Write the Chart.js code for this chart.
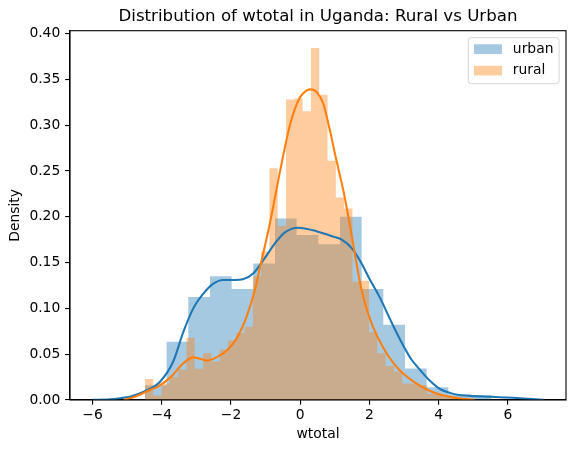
<!DOCTYPE html>
<html><head><meta charset="utf-8">
<script src="https://cdn.jsdelivr.net/npm/chart.js@4.4.1/dist/chart.umd.min.js"></script>
<style>html,body{margin:0;padding:0;background:#fff}#wrap{position:relative;width:576px;height:453px}</style>
</head><body><div id="wrap"><canvas id="c"></canvas></div>
<script>
const titleText = 'Distribution of wtotal in Uganda: Rural vs Urban';
const xLabel = 'wtotal';
const yLabel = 'Density';
const seriesNames = ['urban', 'rural'];

const xTicks = [-6, -4, -2, 0, 2, 4, 6];
const xTickLabels = ['\u22126', '\u22124', '\u22122', '0', '2', '4', '6'];
const yTicks = [0, 0.05, 0.10, 0.15, 0.20, 0.25, 0.30, 0.35, 0.40];
const yTickLabels = ['0.00', '0.05', '0.10', '0.15', '0.20', '0.25', '0.30', '0.35', '0.40'];

// histogram bin edges and densities
const urbanEdges = [-4.487, -3.861, -3.234, -2.608, -1.982, -1.356, -0.729, -0.103, 0.523, 1.150,
  1.776, 2.402, 3.029, 3.655, 4.281, 4.908, 5.534];
const urbanDensity = [0.016, 0.0635, 0.1125, 0.135, 0.121, 0.149, 0.198, 0.180, 0.170, 0.200,
  0.121, 0.082, 0.0345, 0.0138, 0.0062, 0.0054];

const ruralEdges = [-4.487, -4.247, -4.007, -3.767, -3.527, -3.288, -3.048, -2.808, -2.568, -2.328,
  -2.088, -1.848, -1.608, -1.368, -1.128, -0.889, -0.649, -0.409, -0.169, 0.071,
  0.311, 0.551, 0.791, 1.031, 1.271, 1.511, 1.750, 1.990, 2.230, 2.470,
  2.710, 2.950, 3.190, 3.430, 3.670, 3.909, 4.149, 4.389, 4.629];
const ruralDensity = [0.023, 0.005, 0.018, 0.025, 0.033, 0.068, 0.034, 0.051, 0.042, 0.055,
  0.065, 0.073, 0.080, 0.135, 0.162, 0.253, 0.190, 0.328, 0.329, 0.315,
  0.384, 0.333, 0.261, 0.221, 0.209, 0.129, 0.130, 0.074, 0.051, 0.037,
  0.031, 0.018, 0.018, 0.016, 0.0065, 0.006, 0.003, 0.0025];

// KDE curves
const urbanKdeX = [-6.0, -5.5, -5.2, -4.92, -4.52, -4.05, -3.67, -3.38, -3.09, -2.80,
  -2.51, -2.22, -1.93, -1.64, -1.36, -1.02, -0.73, -0.44, -0.06, 0.49,
  0.98, 1.2, 1.48, 1.73, 2.02, 2.3, 2.6, 2.9, 3.2, 3.46,
  3.75, 4.04, 4.35, 4.64, 4.91, 5.49, 6.0, 6.35, 7.03];
const urbanKdeY = [0.0002, 0.0008, 0.002, 0.0036, 0.009, 0.020, 0.042, 0.074, 0.100, 0.116,
  0.127, 0.131, 0.131, 0.132, 0.138, 0.155, 0.171, 0.183, 0.188, 0.184,
  0.178, 0.175, 0.166, 0.152, 0.131, 0.112, 0.088, 0.065, 0.045, 0.033,
  0.021, 0.012, 0.0075, 0.0052, 0.0045, 0.0036, 0.0028, 0.002, 0.0003];

const ruralKdeX = [-5.1, -4.92, -4.69, -4.34, -4.11, -3.73, -3.38, -3.09, -2.90, -2.70,
  -2.40, -2.12, -1.84, -1.55, -1.31, -1.16, -0.87, -0.58, -0.29, -0.01,
  0.19, 0.31, 0.48, 0.67, 0.86, 1.05, 1.25, 1.44, 1.6, 1.75,
  1.9, 2.1, 2.4, 2.7, 3.0, 3.4, 3.8, 4.25, 4.7, 5.05];
const ruralKdeY = [0.0002, 0.0018, 0.005, 0.011, 0.0145, 0.0255, 0.040, 0.0465, 0.045, 0.043,
  0.047, 0.054, 0.067, 0.091, 0.120, 0.145, 0.194, 0.250, 0.301, 0.330,
  0.338, 0.339, 0.336, 0.323, 0.294, 0.261, 0.228, 0.190, 0.155, 0.124,
  0.102, 0.080, 0.057, 0.040, 0.028, 0.017, 0.009, 0.004, 0.0012, 0.0002];

const urbanFill = 'rgba(31,119,180,0.4)';
const ruralFill = 'rgba(255,127,14,0.4)';
const urbanLine = '#1f77b4';
const ruralLine = '#ff7f0e';

function histPoints(edges, dens) {
  return edges.map((e, i) => ({x: e, y: i < dens.length ? dens[i] : 0}));
}
function curvePoints(xs, ys) {
  return xs.map((x, i) => ({x: x, y: ys[i]}));
}

Chart.defaults.font.family = "'DejaVu Sans', sans-serif";
Chart.defaults.font.size = 13.89;
Chart.defaults.color = '#000';

const FS = 13.89;
const LEG_PAD = 7.5;
const LEG_BOX_W = 27.7;
const LEG_BOX_EXTRA = 4.2;

const framePlugin = {
  id: 'framePlugin',
  afterLayout(chart) {
    const lg = chart.legend, a = chart.chartArea;
    if (!lg || !a) return;
    const left = a.right - 99.5;
    const top = a.top + 4.0;
    lg.left = left; lg.top = top;
    lg.right = left + 95; lg.bottom = top + 200;
  },
  beforeDraw(chart) {
    const a = chart.chartArea, ctx = chart.ctx;
    const w = 90.7, h = 46;
    const x0 = a.right - 6.9 - w, y0 = a.top + 6.9;
    const r = 2.8;
    ctx.save();
    ctx.beginPath();
    ctx.moveTo(x0 + r, y0);
    ctx.lineTo(x0 + w - r, y0); ctx.arcTo(x0 + w, y0, x0 + w, y0 + r, r);
    ctx.lineTo(x0 + w, y0 + h - r); ctx.arcTo(x0 + w, y0 + h, x0 + w - r, y0 + h, r);
    ctx.lineTo(x0 + r, y0 + h); ctx.arcTo(x0, y0 + h, x0, y0 + h - r, r);
    ctx.lineTo(x0, y0 + r); ctx.arcTo(x0, y0, x0 + r, y0, r);
    ctx.closePath();
    ctx.fillStyle = 'rgba(255,255,255,0.8)';
    ctx.fill();
    ctx.strokeStyle = 'rgba(204,204,204,0.8)';
    ctx.lineWidth = 1;
    ctx.stroke();
    ctx.restore();
  },
  afterDatasetsDraw(chart) {
    const a = chart.chartArea, ctx = chart.ctx;
    ctx.save();
    ctx.strokeStyle = '#000';
    ctx.lineWidth = 1.1;
    ctx.strokeRect(a.left, a.top, a.right - a.left, a.bottom - a.top);
    ctx.restore();
  }
};

function legendLabels(chart) {
  const a = chart.chartArea;
  const bx = (a && a.right ? a.right : 566) - 99.5 + LEG_PAD;
  const fills = [urbanFill, ruralFill];
  return seriesNames.map((name, i) => {
    const g = chart.ctx.createLinearGradient(bx, 0, bx + LEG_BOX_W + LEG_BOX_EXTRA, 0);
    const f = LEG_BOX_W / (LEG_BOX_W + LEG_BOX_EXTRA);
    g.addColorStop(0, fills[i]);
    g.addColorStop(f, fills[i]);
    g.addColorStop(Math.min(1, f + 0.001), 'rgba(255,255,255,0)');
    g.addColorStop(1, 'rgba(255,255,255,0)');
    return {text: name, fillStyle: g, strokeStyle: 'rgba(0,0,0,0)', lineWidth: 0, hidden: false, datasetIndex: i, fontColor: '#000'};
  });
}

const axisCommon = {
  grid: {display: true, drawOnChartArea: false, drawTicks: true, tickLength: 4.86, color: '#000', lineWidth: 1.1},
  border: {display: true, color: '#000', width: 1.1}
};

new Chart(document.getElementById('c'), {
  type: 'line',
  data: {
    datasets: [
      {label: seriesNames[0], data: histPoints(urbanEdges, urbanDensity), stepped: 'before', fill: 'origin',
       backgroundColor: urbanFill, borderColor: 'rgba(0,0,0,0)', borderWidth: 0, pointRadius: 0, order: 3},
      {label: seriesNames[1], data: histPoints(ruralEdges, ruralDensity), stepped: 'before', fill: 'origin',
       backgroundColor: ruralFill, borderColor: 'rgba(0,0,0,0)', borderWidth: 0, pointRadius: 0, order: 2},
      {label: seriesNames[0] + ' kde', data: curvePoints(urbanKdeX, urbanKdeY), borderColor: urbanLine, borderWidth: 2.08,
       pointRadius: 0, fill: false, cubicInterpolationMode: 'monotone', order: 1},
      {label: seriesNames[1] + ' kde', data: curvePoints(ruralKdeX, ruralKdeY), borderColor: ruralLine, borderWidth: 2.08,
       pointRadius: 0, fill: false, cubicInterpolationMode: 'monotone', order: 0}
    ]
  },
  options: {
    responsive: true,
    maintainAspectRatio: false,
    animation: false,
    events: [],
    layout: {padding: {left: 0, right: 10, top: 0, bottom: 0}},
    plugins: {
      tooltip: {enabled: false},
      title: {display: true, text: titleText, align: 'center', fullSize: false, color: '#000',
              font: {size: 16.67, weight: 'normal', lineHeight: 1.2}, padding: {top: 6.6, bottom: 4.1}},
      legend: {display: true, position: 'chartArea', align: 'start',
               labels: {boxWidth: LEG_BOX_W + LEG_BOX_EXTRA, boxHeight: 9.7, padding: LEG_PAD, color: '#000',
                        font: {size: FS}, generateLabels: legendLabels}}
    },
    scales: {
      x: Object.assign({}, axisCommon, {
        type: 'linear', min: -6.653, max: 7.682,
        afterFit(s) { s.height = 53; },
        afterBuildTicks(s) { s.ticks = xTicks.map(v => ({value: v})); },
        ticks: {autoSkip: false, maxRotation: 0, padding: 2.5, color: '#000', font: {size: FS},
                callback: (v, i) => xTickLabels[i]},
        title: {display: true, text: xLabel, color: '#000', font: {size: FS}, padding: {top: 0, bottom: 9.8}}
      }),
      y: Object.assign({}, axisCommon, {
        type: 'linear', min: 0, max: 0.403,
        afterFit(s) { s.width = 70; },
        afterBuildTicks(s) { s.ticks = yTicks.map(v => ({value: v})); },
        ticks: {autoSkip: false, padding: 4.86, color: '#000', font: {size: FS},
                callback: (v, i) => yTickLabels[i]},
        title: {display: true, text: yLabel, color: '#000', font: {size: FS}, padding: {top: 7.4, bottom: 0}}
      })
    }
  },
  plugins: [framePlugin]
});
</script>
</body></html>
